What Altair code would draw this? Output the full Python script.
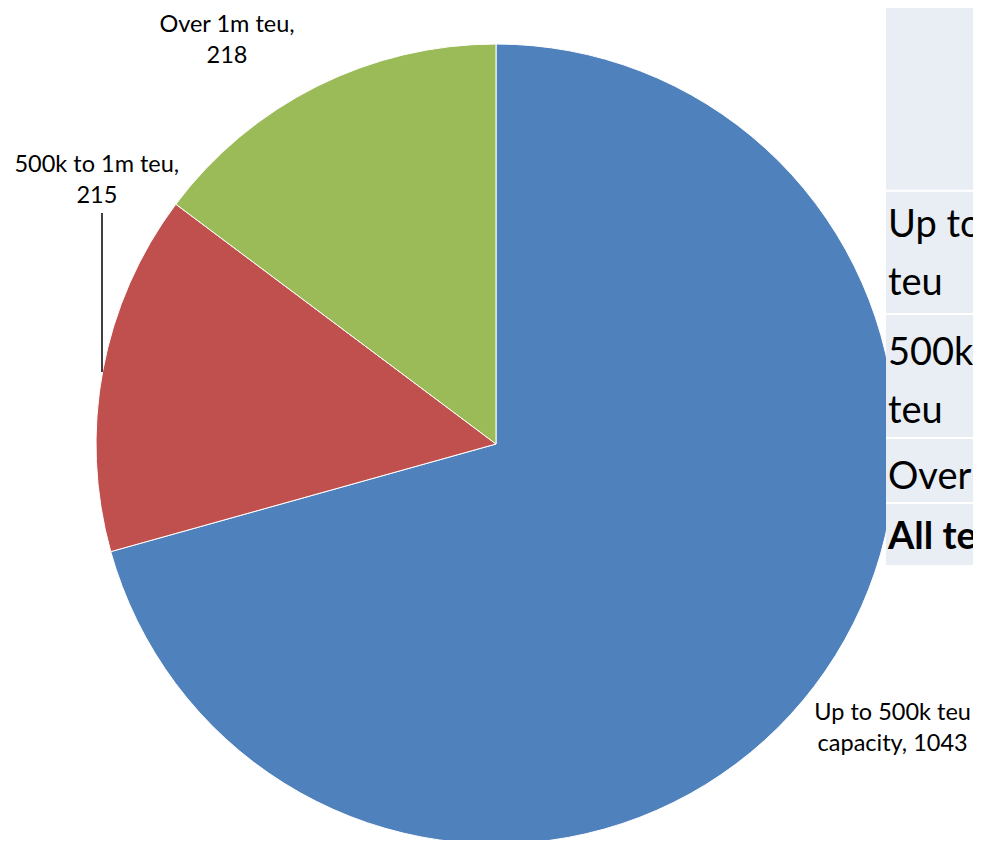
import textwrap
import altair as alt
import pandas as pd

# ---- data ----
categories = ["Up to 500k teu capacity", "500k to 1m teu", "Over 1m teu"]
values = [1043, 215, 218]
colors = ["#4F81BD", "#C0504D", "#9BBB59"]
table_rows = ["Up to 500k teu", "500k to 1m teu", "Over 1m teu", "All teu"]

labels = ["\n".join(textwrap.wrap(f"{c}, {v}", width=15)) for c, v in zip(categories, values)]
df = pd.DataFrame({"category": categories, "value": values,
                   "idx": list(range(len(categories))), "label": labels})

# ---- layout ----
W, H = 965, 832
CX, CY, R = 488, 436, 400
FONT = "Lato"
one = pd.DataFrame({"k": [0]})

base = alt.Chart(df).encode(
    theta=alt.Theta("value:Q", stack=True),
    order=alt.Order("idx:Q"),
)

pie = base.mark_arc(radius=R, stroke="white", strokeWidth=1).encode(
    x=alt.value(CX), y=alt.value(CY),
    color=alt.Color("category:N", scale=alt.Scale(domain=categories, range=colors), legend=None),
)

label_offsets = {
    "Over 1m teu": (-90, -61),
    "500k to 1m teu": (-6, -205),
    "Up to 500k teu capacity": (78, 27),
}
label_layers = []
for cat, (ddx, ddy) in label_offsets.items():
    label_layers.append(
        base.transform_calculate(lbl=f"datum.category == '{cat}' ? datum.label : ''")
        .mark_text(radius=R, dx=ddx, dy=ddy, font=FONT, fontSize=23.5, lineHeight=31,
                   align="center", baseline="middle", lineBreak="\n", color="black")
        .encode(x=alt.value(CX), y=alt.value(CY), text="lbl:N")
    )

leader = alt.Chart(one).mark_rule(color="black", strokeWidth=1.5).encode(
    x=alt.value(94), y=alt.value(205), y2=alt.value(364)
)

table_bg = alt.Chart(one).mark_rect(color="#E9EDF4").encode(
    x=alt.value(878), x2=alt.value(W), y=alt.value(0), y2=alt.value(557)
)

line_layers = [
    alt.Chart(one).mark_rule(color="white", strokeWidth=2).encode(
        x=alt.value(878), x2=alt.value(W), y=alt.value(yy)
    )
    for yy in [182.7, 306, 430, 495]
]

table_df = pd.DataFrame({"row": ["\n".join(textwrap.wrap(t, width=11)) for t in table_rows],
                         "i": list(range(len(table_rows)))})
row_baselines = [229, 357, 481, 541]
text_layers = []
for i, yb in enumerate(row_baselines):
    text_layers.append(
        alt.Chart(table_df).transform_filter(f"datum.i == {i}")
        .mark_text(font=FONT, fontSize=38, lineHeight=58, align="left",
                   baseline="alphabetic", lineBreak="\n", color="black",
                   fontWeight="bold" if i == len(row_baselines) - 1 else "normal")
        .encode(x=alt.value(880), y=alt.value(yb), text="row:N")
    )

chart = alt.layer(pie, leader, *label_layers, table_bg, *line_layers, *text_layers).properties(
    width=W, height=H, autosize=alt.AutoSizeParams(type="none"), padding=0
).configure_view(stroke=None)

chart.save("out.html", embed_options={"renderer": "svg", "actions": False})
